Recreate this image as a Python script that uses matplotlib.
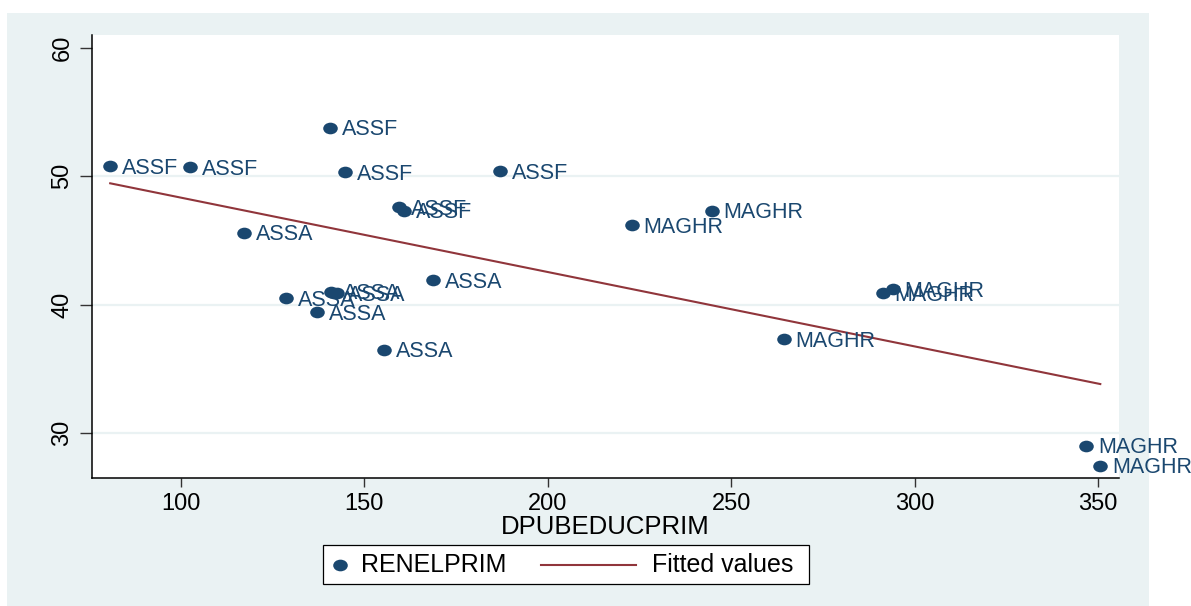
import numpy as np
import matplotlib
matplotlib.use("Agg")
import matplotlib.pyplot as plt
from matplotlib.patches import Rectangle
from matplotlib.lines import Line2D
from matplotlib.path import Path
from matplotlib.transforms import Affine2D

# Primary enrolment rate vs public primary education spending, by region group
groups = ["ASSF", "ASSA", "MAGHR"]
dpub_assf = [80.7, 102.5, 140.6, 144.7, 186.9, 159.4, 160.8]
renel_assf = [50.8, 50.7, 53.8, 50.3, 50.4, 47.6, 47.3]
dpub_assa = [117.2, 128.6, 137.1, 141.0, 142.4, 168.7, 155.3]
renel_assa = [45.6, 40.5, 39.4, 41.0, 40.9, 41.9, 36.5]
dpub_maghr = [222.9, 244.7, 264.3, 294.0, 291.3, 346.8, 350.6]
renel_maghr = [46.2, 47.3, 37.3, 41.2, 40.9, 29.0, 27.45]

x_ticks = [100, 150, 200, 250, 300, 350]
y_ticks = [30, 40, 50, 60]

NAVY = "#1a476f"
MAROON = "#90353b"
BG = "#eaf2f3"
FONT = "Liberation Sans"

x = np.array(dpub_assf + dpub_assa + dpub_maghr)
y = np.array(renel_assf + renel_assa + renel_maghr)
labels = ["ASSF"] * len(dpub_assf) + ["ASSA"] * len(dpub_assa) + ["MAGHR"] * len(dpub_maghr)

W, H = 1191, 606
fig = plt.figure(figsize=(W / 100, H / 100), dpi=100)
fig.patch.set_facecolor("white")
fig.patches.append(Rectangle((7 / W, 0), 1142 / W, (H - 13) / H,
                             transform=fig.transFigure, facecolor=BG,
                             edgecolor="none", zorder=-10))

ax = fig.add_axes([92 / W, 1 - 478 / H, (1119 - 92) / W, (478 - 35) / H])
ax.set_facecolor("white")
ax.set_xlim(75.74, 355.7)
ax.set_ylim(26.49, 61.01)

for s in ["top", "right"]:
    ax.spines[s].set_visible(False)
for s in ["left", "bottom"]:
    ax.spines[s].set_color("black")
    ax.spines[s].set_linewidth(1.1)

ax.set_yticks(y_ticks)
ax.set_xticks(x_ticks)
for g in [30, 40, 50]:
    ax.axhline(g, color=BG, lw=1.6, zorder=0)

ax.tick_params(axis="y", length=8.5, width=1.0, color="#333333", pad=5,
               labelsize=17, labelrotation=90)
ax.tick_params(axis="x", length=6.5, width=1.0, color="#333333", pad=4,
               labelsize=17)
for lab in ax.get_yticklabels():
    lab.set_fontfamily(FONT)
    lab.set_va("center")
for lab in ax.get_xticklabels():
    lab.set_fontfamily(FONT)

ax.set_xlabel("DPUBEDUCPRIM", fontsize=18.5, family=FONT, labelpad=0)

# slightly wide oval marker
ell = Path.unit_circle().transformed(Affine2D().scale(1.25, 1.0))
ax.scatter(x, y, s=110, marker=ell, color=NAVY, zorder=3, linewidths=0)
for xi, yi, lab in zip(x, y, labels):
    ax.annotate(lab, (xi, yi), xytext=(8.5, -5.4), textcoords="offset points",
                va="baseline", ha="left", fontsize=15.5, family=FONT,
                color=NAVY, zorder=4, annotation_clip=False)

# linear fit
slope, intercept = np.polyfit(x, y, 1)
xf = np.array([x.min(), x.max()])
ax.plot(xf, intercept + slope * xf, color=MAROON, lw=1.5, zorder=2)

# legend box
lx0, lx1, ly0, ly1 = 323, 809, 545, 584
fig.patches.append(Rectangle((lx0 / W, 1 - ly1 / H), (lx1 - lx0) / W, (ly1 - ly0) / H,
                             transform=fig.transFigure, facecolor="white",
                             edgecolor="black", lw=0.9, zorder=5))
ym = 1 - 565 / H
fig.add_artist(Line2D([340 / W], [ym], marker=ell, markersize=10.5, color=NAVY,
                      markeredgewidth=0, linestyle="none",
                      transform=fig.transFigure, zorder=6))
fig.text(361 / W, ym, "RENELPRIM", fontsize=18, family=FONT, va="center",
         ha="left", zorder=6)
fig.add_artist(Line2D([541 / W, 636 / W], [ym, ym], color=MAROON, lw=1.5,
                      transform=fig.transFigure, zorder=6))
fig.text(652 / W, ym, "Fitted values", fontsize=18, family=FONT, va="center",
         ha="left", zorder=6)

fig.savefig("out.png", dpi=100, facecolor=fig.get_facecolor())
